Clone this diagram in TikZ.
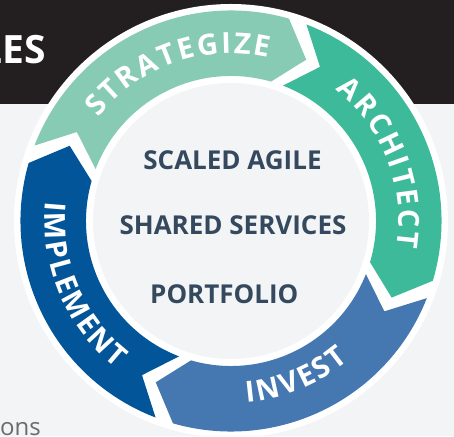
\documentclass[tikz,border=0pt]{standalone}
\usepackage{fontspec}
\setmainfont{Open Sans}
\definecolor{bg}{HTML}{F3F4F6}
\definecolor{hdr}{HTML}{231F20}
\definecolor{cstrat}{HTML}{88CBB4}
\definecolor{carch}{HTML}{3DBA9A}
\definecolor{cinv}{HTML}{4577B0}
\definecolor{cimpl}{HTML}{03559A}
\definecolor{ctext}{HTML}{34495E}
\definecolor{cgrey}{HTML}{6B6B6B}
\newbox\rtbox
\newcommand\ringfont{\fontsize{29}{29}\selectfont\bfseries}
\newcommand\rtdefw[1]{\setbox\rtbox\hbox{\ringfont #1}\expandafter\xdef\csname rtw#1\endcsname{\the\wd\rtbox}}
\AtBeginDocument{\rtdefw{A}\rtdefw{C}\rtdefw{E}\rtdefw{G}\rtdefw{H}\rtdefw{I}\rtdefw{L}\rtdefw{M}\rtdefw{N}\rtdefw{P}\rtdefw{R}\rtdefw{S}\rtdefw{T}\rtdefw{V}\rtdefw{Z}}
\newcommand\ringtext[6]{% #1 centre angle, #2 baseline radius, #3 dir, #4 letters, #5 spacing, #6 name
  \gdef\rtTotal{0}%
  \foreach \rtc in {#4}{%
    \pgfmathsetmacro\rtTmp{\rtTotal+\csname rtw\rtc\endcsname+#5}%
    \xdef\rtTotal{\rtTmp}%
  }%
  \pgfmathsetmacro\rtTmp{\rtTotal-#5}%
  \xdef\rtTotal{\rtTmp}%
  \gdef\rtCum{0}%
  \foreach \rtc [count=\rti] in {#4}{%
    \pgfmathsetmacro\rtW{\csname rtw\rtc\endcsname}%
    \pgfmathsetmacro\rtS{\rtCum+\rtW/2-\rtTotal/2}%
    \pgfmathsetmacro\rtA{#1-(#3)*\rtS/(#2)*180/pi}%
    \pgfmathsetmacro\rtR{\rtA-90*(#3)}%
    \node[ringlabel, rotate=\rtR] (#6-\rti) at (\rtA:#2pt) {\rtc};
    \pgfmathsetmacro\rtTmp{\rtCum+\rtW+#5}%
    \xdef\rtCum{\rtTmp}%
  }%
}
\newcommand\Ro{210.5pt}
\newcommand\Ri{145pt}
\newcommand\Rm{178pt}
\newcommand\ringarrow[3]{% #1 colour, #2 tail angle, #3 head angle
  \fill[#1] (#2:\Ro) arc[start angle=#2, end angle=#3, radius=\Ro]
    -- ({#3-9}:\Rm) -- (#3:\Ri) arc[start angle=#3, end angle=#2, radius=\Ri]
    -- ({#2-9}:\Rm) -- cycle;}
\tikzset{
  ringlabel/.style={inner sep=0pt, anchor=base, text=white, font=\ringfont},
  centrelabel/.style={inner sep=0pt, anchor=base, text=ctext, font=\fontsize{26}{26}\selectfont\bfseries},
}
\begin{document}
\begin{tikzpicture}[x=1pt,y=1pt]
\useasboundingbox (0,0) rectangle (454,436);
\clip (0,0) rectangle (454,436);
\fill[bg] (0,0) rectangle (454,436);
\fill[hdr] (0,332) rectangle (454,436);
\node[inner sep=0pt, anchor=base east, text=white, font=\fontsize{39}{39}\selectfont\bfseries] (title) at (46.5,372.7) {LES};
\node[inner sep=0pt, anchor=base west, text=cgrey, font=\fontsize{24}{24}\selectfont] (para) at (0,0.5) {ons};
\begin{scope}[shift={(231,215)}]
  \fill[white] (0,0) circle[radius=217pt];
  \ringarrow{cstrat}{159}{74}
  \ringarrow{carch}{69}{-16.5}
  \ringarrow{cinv}{-21.5}{-106}
  \ringarrow{cimpl}{-111}{-196}
  \fill[bg] (0,0) circle[radius=138pt];
  \ringtext{109.5}{167.7}{1}{S,T,R,A,T,E,G,I,Z,E}{2.4}{strat}
  \ringtext{21.3}{167.7}{1}{A,R,C,H,I,T,E,C,T}{2.4}{arch}
  \ringtext{-67.5}{182}{-1}{I,N,V,E,S,T}{2.2}{inv}
  \ringtext{203}{186.5}{-1}{I,M,P,L,E,M,E,N,T}{2.2}{impl}
\end{scope}
\node[centrelabel] (scaled) at (232.5,266) {SCALED AGILE};
\node[centrelabel] (shared) at (233,201) {SHARED SERVICES};
\node[centrelabel] (portfolio) at (224.3,132.7) {PORTFOLIO};
\end{tikzpicture}
\end{document}
